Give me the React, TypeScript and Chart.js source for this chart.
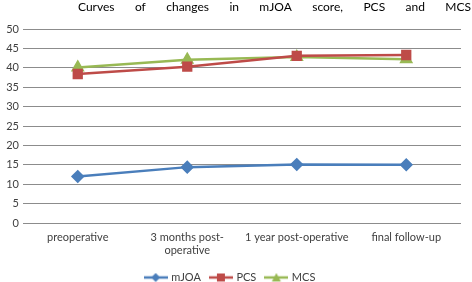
import { useEffect, useRef } from "react";
import { Chart, registerables } from "chart.js";

Chart.register(...registerables);

const categories: (string | string[])[] = [
  "preoperative",
  ["3 months post-", "operative"],
  "1 year post-operative",
  "final follow-up",
];
const mjoa = [12.0, 14.4, 15.1, 15.0];
const pcs = [38.4, 40.3, 43.1, 43.3];
const mcs = [40.1, 42.1, 42.8, 42.2];
const titleText = "Curves of changes in mJOA score, PCS and MCS";

const BLUE = "#4A7EBB";
const RED = "#BE4B48";
const GREEN = "#98B954";
const FONT = "Lato, 'Liberation Sans', sans-serif";

function makeMarker(color: string, style: string): HTMLCanvasElement {
  const c = document.createElement("canvas");
  c.width = 24;
  c.height = 10;
  const ctx = c.getContext("2d")!;
  ctx.strokeStyle = color;
  ctx.lineWidth = 2.5;
  ctx.beginPath();
  ctx.moveTo(0, 5);
  ctx.lineTo(24, 5);
  ctx.stroke();
  ctx.fillStyle = color;
  ctx.beginPath();
  if (style === "diamond") {
    ctx.moveTo(12, 0.5);
    ctx.lineTo(16.5, 5);
    ctx.lineTo(12, 9.5);
    ctx.lineTo(7.5, 5);
  } else if (style === "square") {
    ctx.rect(8, 1, 8, 8);
  } else {
    ctx.moveTo(12, 0.5);
    ctx.lineTo(16.5, 9);
    ctx.lineTo(7.5, 9);
  }
  ctx.closePath();
  ctx.fill();
  return c;
}

const justifiedTitle = {
  id: "justifiedTitle",
  afterDraw(chart: any) {
    const ctx = chart.ctx;
    const words = titleText.split(" ");
    ctx.save();
    ctx.font = `12px ${FONT}`;
    ctx.fillStyle = "#000000";
    ctx.textBaseline = "middle";
    const left = 78;
    const right = 471;
    const widths = words.map((w) => ctx.measureText(w).width);
    const total = widths.reduce((a, b) => a + b, 0);
    const gap = (right - left - total) / (words.length - 1);
    let x = left;
    words.forEach((w, i) => {
      ctx.fillText(w, x, 7);
      x += widths[i] + gap;
    });
    ctx.restore();
  },
};

export default function App() {
  const ref = useRef<HTMLCanvasElement>(null);
  useEffect(() => {
    document.body.style.margin = "0";
    const markers = [
      makeMarker(BLUE, "diamond"),
      makeMarker(RED, "square"),
      makeMarker(GREEN, "triangle"),
    ];
    const chart = new Chart(ref.current!, {
      type: "line",
      data: {
        labels: categories as any,
        datasets: [
          {
            label: "mJOA",
            data: mjoa,
            borderColor: BLUE,
            backgroundColor: BLUE,
            pointStyle: "rectRot",
            pointRadius: 5,
            borderWidth: 2.5,
          },
          {
            label: "PCS",
            data: pcs,
            borderColor: RED,
            backgroundColor: RED,
            pointStyle: "rect",
            pointRadius: 5.5,
            borderWidth: 2.5,
          },
          {
            label: "MCS",
            data: mcs,
            borderColor: GREEN,
            backgroundColor: GREEN,
            pointStyle: "triangle",
            pointRadius: 5.5,
            borderWidth: 2.5,
          },
        ],
      },
      options: {
        animation: false,
        responsive: false,
        layout: { padding: { top: 29, right: 11, left: 0, bottom: -11 } },
        plugins: {
          title: { display: false },
          tooltip: { enabled: false },
          legend: {
            position: "bottom",
            labels: {
              usePointStyle: true,
              pointStyleWidth: 20,
              color: "#404040",
              font: { size: 11, family: FONT },
              padding: 10,
              generateLabels: (ch: any) => {
                const base = Chart.defaults.plugins.legend.labels.generateLabels(ch);
                return base.map((l: any, i: number) => ({ ...l, pointStyle: markers[i] }));
              },
            },
          },
        },
        scales: {
          x: {
            offset: true,
            grid: { display: false, drawTicks: false },
            border: { display: false },
            ticks: {
              color: "#404040",
              font: { size: 11, family: FONT },
              maxRotation: 0,
              autoSkip: false,
              padding: 8,
            },
            afterFit: (s: any) => {
              s.height = 39;
            },
          },
          y: {
            min: 0,
            max: 50,
            ticks: {
              stepSize: 5,
              color: "#404040",
              font: { size: 11, family: FONT },
              padding: 4,
            },
            grid: { color: "#8C8C8C", drawTicks: false },
            border: { display: false },
            afterFit: (s: any) => {
              s.width = 23;
            },
          },
        },
      },
      plugins: [justifiedTitle],
    });
    return () => chart.destroy();
  }, []);
  return <canvas ref={ref} width={472} height={282} style={{ display: "block" }} />;
}
